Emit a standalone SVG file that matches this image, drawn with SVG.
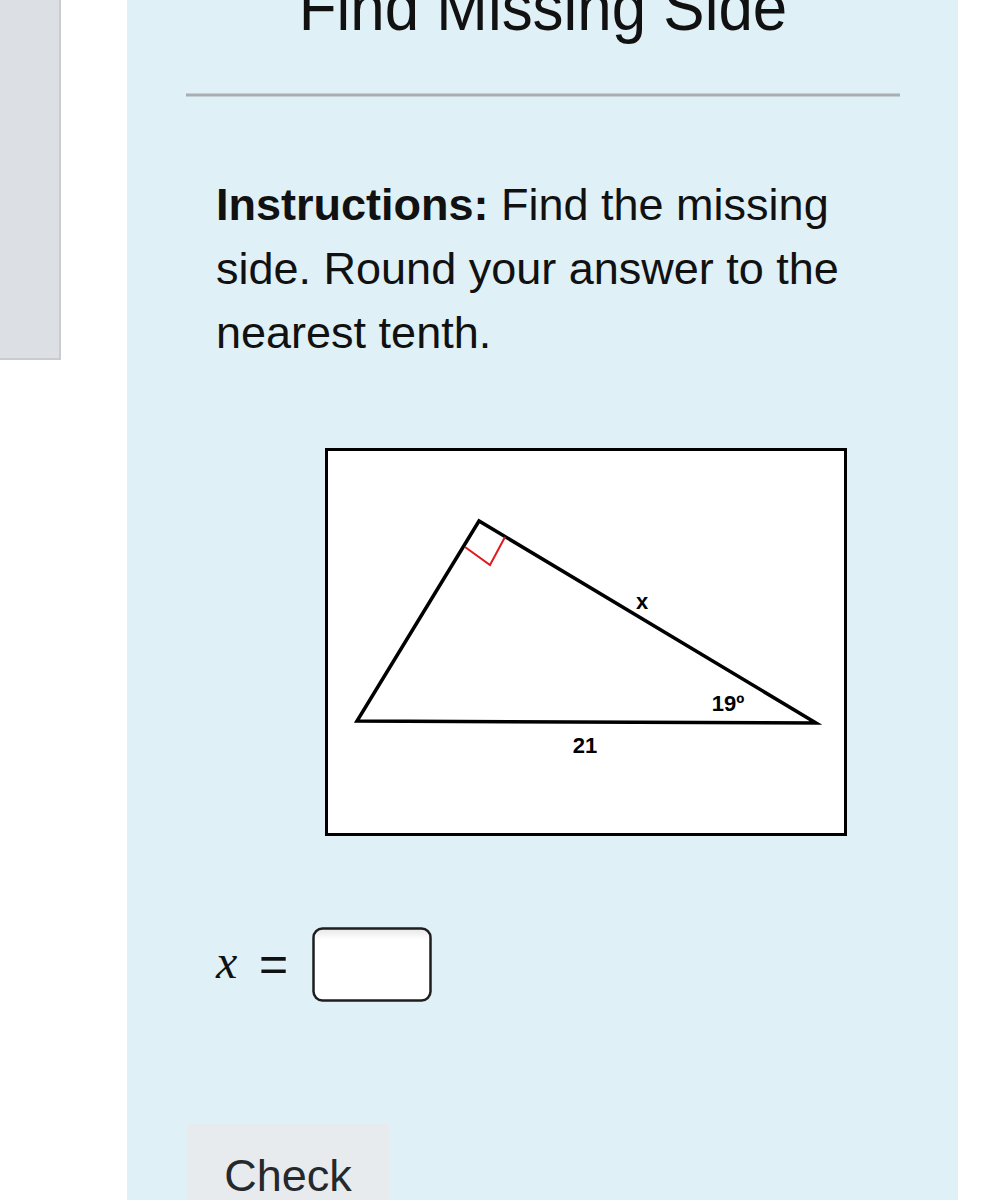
<svg xmlns="http://www.w3.org/2000/svg" width="1004" height="1200" viewBox="0 0 1004 1200">
  <defs>
    <style>
      .sans { font-family: "Liberation Sans", Arial, sans-serif; }
      .instr { font-size: 45px; fill: #111; }
      .lbl { font-size: 22px; font-weight: bold; fill: #000; text-anchor: middle; }
      .edge { fill: none; stroke: #000; stroke-width: 3.5; stroke-linejoin: miter; }
    </style>
    <linearGradient id="inputShade" x1="0" y1="0" x2="0" y2="1">
      <stop offset="0" stop-color="#e6e6e6"/>
      <stop offset="0.15" stop-color="#ffffff"/>
      <stop offset="1" stop-color="#ffffff"/>
    </linearGradient>
  </defs>

  <!-- page background -->
  <rect x="0" y="0" width="1004" height="1200" fill="#ffffff"/>

  <!-- left sidebar -->
  <g id="sidebar">
    <rect x="-2" y="-2" width="62" height="361" fill="#dcdfe3" stroke="#c9cccf" stroke-width="2"/>
  </g>

  <!-- main panel -->
  <g id="panel">
    <rect x="127" y="0" width="831" height="1200" fill="#dff0f6"/>
  </g>

  <g id="title">
    <text x="543" y="30" class="sans" font-size="61" text-anchor="middle" fill="#111" transform="translate(543 30) scale(1.015 1.08) translate(-543 -30)">Find Missing Side</text>
    <line x1="186" y1="95" x2="900" y2="95" stroke="#a9aeb1" stroke-width="3"/>
  </g>

  <g id="instructions" class="sans instr">
    <text x="216" y="220"><tspan font-weight="bold">Instructions:</tspan> Find the missing</text>
    <text x="216" y="284">side. Round your answer to the</text>
    <text x="216" y="348">nearest tenth.</text>
  </g>

  <!-- figure -->
  <g id="figure">
    <rect x="326.5" y="449.5" width="519" height="385" fill="#ffffff" stroke="#000" stroke-width="3"/>
  </g>

  <g id="triangle">
    <polygon class="edge" points="479,521 357,721 816,723"/>
    <polyline points="465,547 490,565 505,537" fill="none" stroke="#e0191e" stroke-width="2"/>
  </g>

  <g id="labels" class="sans lbl">
    <text x="642" y="609">x</text>
    <text x="728" y="711">19º</text>
    <text x="585" y="753">21</text>
  </g>

  <!-- answer input -->
  <g id="answer">
    <text x="216" y="978" font-family="Liberation Serif, 'Times New Roman', serif" font-style="italic" font-size="48" fill="#111">x</text>
    <text x="259" y="981" font-family="Liberation Sans, Arial, sans-serif" font-size="50" fill="#111">=</text>
    <rect x="313.5" y="928.5" width="117" height="72" rx="9" fill="url(#inputShade)" stroke="#1e1e1e" stroke-width="2.5"/>
  </g>

  <!-- check button -->
  <g id="check">
    <rect x="187" y="1124" width="202" height="90" fill="#e8ebee"/>
    <text x="288" y="1191" class="sans" font-size="45" text-anchor="middle" fill="#25292d">Check</text>
  </g>
</svg>
